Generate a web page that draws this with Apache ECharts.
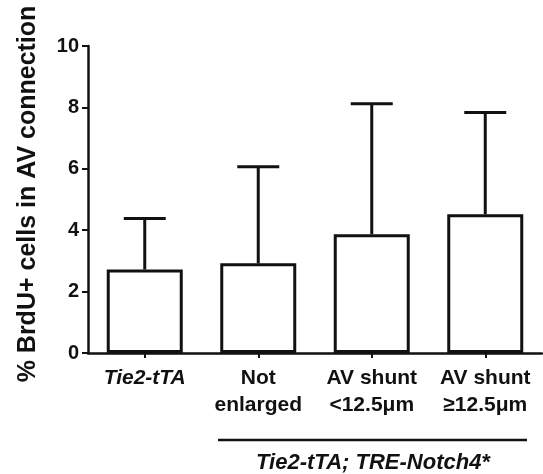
<!DOCTYPE html>
<html>
<head>
<meta charset="utf-8">
<script src="https://cdn.jsdelivr.net/npm/echarts@6/dist/echarts.min.js"></script>
<style>
  html, body { margin: 0; padding: 0; background: #fff; }
  #main { width: 543px; height: 474px; }
</style>
</head>
<body>
<div id="main"></div>
<script>
// values
var categories = ['Tie2-tTA', 'Not\nenlarged', 'AV shunt\n<12.5\u03bcm', 'AV shunt\n\u226512.5\u03bcm'];
var means = [2.72, 2.92, 3.87, 4.52];
var upper = [4.38, 6.07, 8.12, 7.83];
var yTicks = [0, 2, 4, 6, 8, 10];

var FONT = '"Liberation Sans", Arial, sans-serif';
var INK = '#111';

var chart = echarts.init(document.getElementById('main'), null, { renderer: 'canvas' });

var errData = means.map(function (m, i) { return [i, m, upper[i]]; });

var option = {
  backgroundColor: '#fff',
  animation: false,
  grid: { left: 88, right: 1, top: 46, bottom: 121, containLabel: false },
  xAxis: {
    type: 'category',
    data: categories,
    axisLine: { lineStyle: { color: INK, width: 2.5 } },
    axisTick: { show: true, alignWithLabel: true, length: 5, lineStyle: { color: INK, width: 2 } },
    axisLabel: {
      margin: 12,
      interval: 0,
      formatter: function (v, i) {
        if (i === 0) return '{it|' + v + '}';
        return v.split('\n').map(function (s) { return '{n|' + s + '}'; }).join('\n');
      },
      rich: {
        it: { fontFamily: FONT, fontSize: 21, fontWeight: 'bold', fontStyle: 'italic', color: INK, lineHeight: 27 },
        n: { fontFamily: FONT, fontSize: 21, fontWeight: 'bold', color: INK, lineHeight: 27 }
      }
    }
  },
  yAxis: {
    type: 'value',
    min: 0,
    max: 10,
    interval: 2,
    splitLine: { show: false },
    axisLine: { show: true, lineStyle: { color: INK, width: 2.5 } },
    axisTick: { show: true, length: 6, lineStyle: { color: INK, width: 2 } },
    axisLabel: {
      margin: 9,
      fontFamily: FONT, fontSize: 20, fontWeight: 'bold', color: INK,
      formatter: function (v) { return yTicks.indexOf(v) >= 0 ? String(v) : ''; }
    }
  },
  series: [
    {
      type: 'bar',
      data: means,
      barWidth: 76,
      itemStyle: { color: '#fff', borderColor: INK, borderWidth: 3 },
      z: 2
    },
    {
      type: 'custom',
      data: errData,
      z: 3,
      renderItem: function (params, api) {
        var x = api.value(0);
        var p0 = api.coord([x, api.value(1)]);
        var p1 = api.coord([x, api.value(2)]);
        var half = 21;
        var st = { stroke: INK, lineWidth: 3 };
        return {
          type: 'group',
          children: [
            { type: 'line', shape: { x1: p0[0], y1: p0[1], x2: p1[0], y2: p1[1] }, style: st },
            { type: 'line', shape: { x1: p1[0] - half, y1: p1[1], x2: p1[0] + half, y2: p1[1] }, style: st }
          ]
        };
      }
    }
  ],
  graphic: [
    {
      type: 'text', x: 28, y: 194, rotation: Math.PI / 2,
      style: {
        text: '% BrdU+ cells in AV connection',
        fontFamily: FONT, fontSize: 25, fontWeight: 'bold',
        fill: INK, align: 'center', verticalAlign: 'middle'
      }
    },
    { type: 'line', shape: { x1: 218, y1: 440, x2: 527, y2: 440 }, style: { stroke: INK, lineWidth: 2.5 } },
    {
      type: 'text', x: 373, y: 463,
      style: {
        text: 'Tie2-tTA; TRE-Notch4*',
        fontFamily: FONT, fontSize: 22, fontWeight: 'bold', fontStyle: 'italic',
        fill: INK, align: 'center', verticalAlign: 'middle'
      }
    }
  ]
};

chart.setOption(option);
</script>
</body>
</html>
